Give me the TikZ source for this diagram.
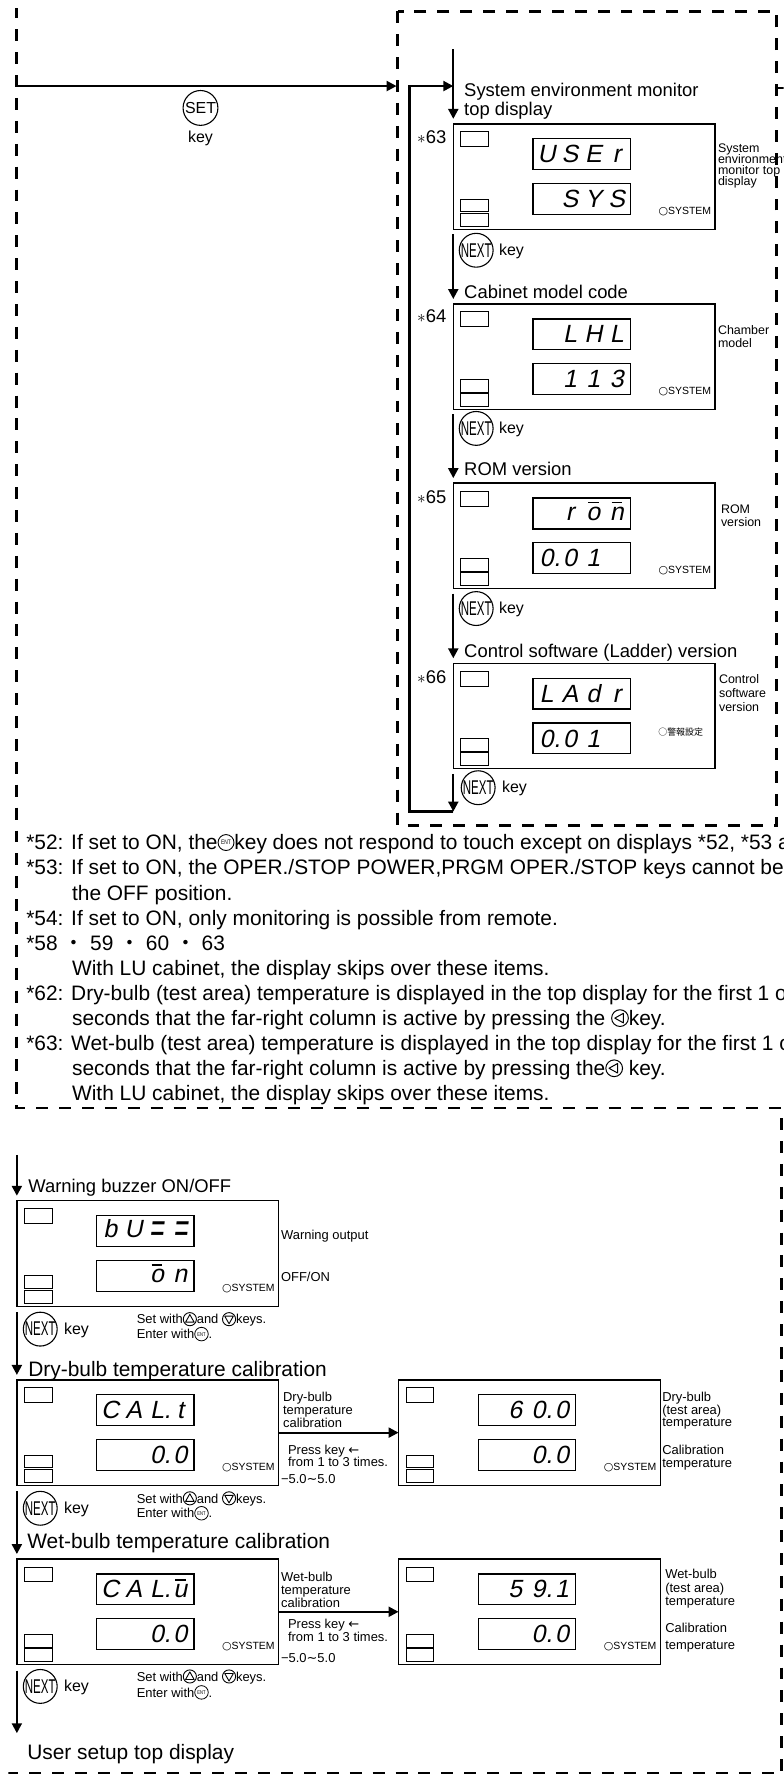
\documentclass[tikz,border=0pt]{standalone}
\usepackage{fontspec}
\setmainfont{Liberation Sans}
\newfontfamily\cjk{Noto Sans CJK JP}
\newfontfamily\djv{DejaVu Sans}
\newfontfamily\lcdf[FakeSlant=0.2]{Liberation Sans}
\usetikzlibrary{arrows.meta}

\newcommand\fs[1]{\fontsize{#1}{#1}\selectfont}
\newcommand\cl[1]{\makebox[23.5pt][c]{#1}}
\newcommand\cd[1]{\makebox[23.5pt][c]{#1\rlap{.}}}
\newcommand\tb[1]{\ooalign{#1\cr\hidewidth\raisebox{0.68em}{\rule{0.42em}{0.07em}}\hidewidth\cr}}
\newcommand\zz{\raisebox{-0.2em}{\scalebox{1}[1.7]{=}}}

\newsavebox\kup \newsavebox\kdn \newsavebox\klt \newsavebox\kent \newsavebox\kentf
\newcommand\entk{\rlap{\usebox\kent}\makebox[\wd\kent][c]{\raisebox{2.75pt}{\fs{5.5}\scalebox{0.75}[1]{ENT}}}}
\newcommand\entf{\rlap{\usebox\kentf}\makebox[\wd\kentf][c]{\raisebox{5.1pt}{\fs{6.5}\scalebox{0.75}[1]{ENT}}}}

\newcommand\dispbox[6]{%
 \node[dbox] (#1) at (#2,#3) {};
 \node[ledr, minimum height=15pt] (#1-a) at (#2+21.5,#3+15.5) {};
 \node[ledr, minimum height=13pt] (#1-b) at (#2+21.5,#3+82) {};
 \node[ledr, minimum height=13pt] (#1-c) at (#2+21.5,#3+96.5) {};
 \node[lcd] (#1-u) at (#2+129,#3+30.5) {#4};
 \node[lcd] (#1-l) at (#2+129,#3+75.5) {#5};
 \node[anchor=base east, font=\fs{10.5}] (#1-s) at (#2+259,#3+91) {#6};
}
\newcommand\lbls[6]{\foreach \lbltext [count=\lbli from 0] in {#6} {\node[anchor=base west, font=\fs{#2}] (#1-\lbli) at (#3, #4+\lbli*#5) {\lbltext};}}
\newcommand\sysl{{\djv\fs{11}○}SYSTEM}

\begin{document}
\begin{tikzpicture}[x=1pt,y=-1pt,
  every node/.style={inner sep=0pt, outer sep=0pt},
  dashbox/.style={line width=2.6pt, dash pattern=on 12pt off 11pt},
  flow/.style={line width=2.2pt},
  arr/.style={flow, -{Triangle[length=10pt,width=10pt]}},
  dbox/.style={draw, line width=1.4pt, minimum width=263pt, minimum height=106pt, anchor=north west},
  lcd/.style={draw, line width=1.2pt, minimum width=98pt, minimum height=31pt, font=\lcdf\fs{25}},
  ledr/.style={draw, line width=1pt, minimum width=28pt},
  keyc/.style={draw, circle, line width=1.1pt, minimum size=34pt},
  head/.style={anchor=base west, font=\fs{18.5}},
  headb/.style={anchor=base west, font=\fs{21}},
  keyt/.style={anchor=base west, font=\fs{16}},
  small/.style={anchor=base west, font=\fs{13}},
  foot/.style={anchor=base west, font=\fs{21}}]
\global\sbox\kup{\tikz[x=1pt,y=1pt,baseline=-4.7pt,line width=0.9pt,line join=round]{\draw (0,0) circle[radius=6.6pt]; \draw (-4.3pt,-3pt) -- (4.3pt,-3pt) -- (0,4.6pt) -- cycle;}}%
\global\sbox\kdn{\tikz[x=1pt,y=1pt,baseline=-4.7pt,line width=0.9pt,line join=round]{\draw (0,0) circle[radius=6.6pt]; \draw (-4.3pt,3pt) -- (4.3pt,3pt) -- (0,-4.6pt) -- cycle;}}%
\global\sbox\klt{\tikz[x=1pt,y=1pt,baseline=-7.4pt,line width=1pt,line join=round]{\draw (0,0) circle[radius=8.4pt]; \draw (-5.2pt,0) -- (3.4pt,4.8pt) -- (3.4pt,-4.8pt) -- cycle;}}%
\global\sbox\kent{\tikz[x=1pt,y=1pt,baseline=-4.7pt,line width=0.8pt]{\draw (0,0) circle[radius=6.8pt];}}%
\global\sbox\kentf{\tikz[x=1pt,y=1pt,baseline=-7.4pt,line width=0.9pt]{\draw (0,0) circle[radius=8pt];}}%
\useasboundingbox (0,0) rectangle (779,1774);
\clip (0,0) rectangle (779,1774);

% dashed frames
\draw[dashbox] (8,-2) -- (8,1105) -- (777,1105) -- (777,1780);
\draw[dashbox] (-2,1773) -- (781,1773);
\draw[dashbox] (391,3) rectangle (772,821);
\draw[dashbox] (770,80) -- (781,80);

% ---------- top right column ----------
\dispbox{A}{447}{116}{\cl{U}\cl{S}\cl{E}\cl{r}}{\cl{}\cl{S}\cl{Y}\cl{S}}{\sysl}
\dispbox{B}{447}{297}{\cl{}\cl{L}\cl{H}\cl{L}}{\cl{}\cl{1}\cl{1}\cl{3}}{\sysl}
\dispbox{C}{447}{477}{\cl{}\cl{r}\cl{\tb{o}}\cl{\tb{n}}}{\cd{0}\cl{0}\cl{1}\cl{}}{\sysl}
\dispbox{D}{447}{658}{\cl{L}\cl{A}\cl{d}\cl{r}}{\cd{0}\cl{0}\cl{1}\cl{}}{}
\node[anchor=base east, font=\cjk\fs{9}] (D-s2) at (698,731) {○警報設定};

\node[head] (hA1) at (458,88.6) {System environment monitor};
\node[head] (hA2) at (458,107.6) {top display};
\node[head] (hB) at (458,291.6) {Cabinet model code};
\node[head] (hC) at (458,469.6) {ROM version};
\node[head] (hD) at (458,652.6) {Control software (Ladder) version};

\node[anchor=base east, font=\fs{18.5}] (sA) at (440,136) {$\ast$63};
\node[anchor=base east, font=\fs{18.5}] (sB) at (440,316) {$\ast$64};
\node[anchor=base east, font=\fs{18.5}] (sC) at (440,497) {$\ast$65};
\node[anchor=base east, font=\fs{18.5}] (sD) at (440,678) {$\ast$66};

\lbls{lA}{12.5}{713}{144.5}{11}{System,environment,monitor top,display}
\lbls{lB}{12.5}{713}{327.5}{13.4}{Chamber,model}
\lbls{lC}{12.5}{716}{507.5}{13.5}{ROM,version}
\lbls{lD}{12.5}{714}{678.5}{14}{Control,software,version}

% SET key arrow
\coordinate (a0) at (10,78);
\coordinate (a1) at (390,78);
\draw[arr] (a0) -- (a1);
\node[keyc, minimum size=35pt, font=\fs{16}] (setk) at (193,100) {SET};
\node[anchor=base, font=\fs{16}] (setkey) at (193,135) {key};

% column arrows
\coordinate (m0) at (447,41);
\draw[arr, shorten >=5pt] (m0) -- (A.north west);
\draw[arr, shorten <=5pt, shorten >=5pt] (A.south west) -- (B.north west);
\draw[arr, shorten <=5pt, shorten >=5pt] (B.south west) -- (C.north west);
\draw[arr, shorten <=5pt, shorten >=5pt] (C.south west) -- (D.north west);
\coordinate (lb) at (447,807);
\coordinate (lc1) at (403,807);
\coordinate (lc2) at (403,78);
\coordinate (lt) at (447,78);
\draw[arr, shorten <=5pt] (D.south west) -- (lb);
\draw[arr, line join=miter] (lb) -- (lc1) -- (lc2) -- (lt);

\node[keyc, font=\fs{20}] (n1) at (470,243) {\scalebox{0.58}[1]{NEXT}};
\node[keyt] (n1k) at (493,248) {key};
\node[keyc, font=\fs{20}] (n2) at (470,422) {\scalebox{0.58}[1]{NEXT}};
\node[keyt] (n2k) at (493,427) {key};
\node[keyc, font=\fs{20}] (n3) at (470,603) {\scalebox{0.58}[1]{NEXT}};
\node[keyt] (n3k) at (493,608) {key};
\node[keyc, font=\fs{20}] (n4) at (472,783) {\scalebox{0.58}[1]{NEXT}};
\node[keyt] (n4k) at (496,788) {key};

% ---------- footnotes ----------
\node[foot] (f1) at (18,845.5) {*52: If set to ON, the\entf key does not respond to touch except on displays *52, *53 and};
\node[foot] (f2) at (18,870.7) {*53: If set to ON, the OPER./STOP POWER,PRGM OPER./STOP keys cannot be};
\node[foot] (f3) at (64,895.9) {the OFF position.};
\node[foot] (f4) at (18,921.1) {*54: If set to ON, only monitoring is possible from remote.};
\node[foot] (f5) at (18,946.3) {*58 {\cjk ・} 59 {\cjk ・} 60 {\cjk ・} 63};
\node[foot] (f6) at (64,971.5) {With LU cabinet, the display skips over these items.};
\node[foot] (f7) at (18,996.7) {*62: Dry-bulb (test area) temperature is displayed in the top display for the first 1 or};
\node[foot] (f8) at (64,1021.9) {seconds that the far-right column is active by pressing the \usebox\klt key.};
\node[foot] (f9) at (18,1047.1) {*63: Wet-bulb (test area) temperature is displayed in the top display for the first 1 or};
\node[foot] (f10) at (64,1072.3) {seconds that the far-right column is active by pressing the\usebox\klt\ key.};
\node[foot] (f11) at (64,1097.5) {With LU cabinet, the display skips over these items.};

% ---------- bottom section ----------
\dispbox{E}{8.5}{1198}{\cl{b}\cl{U}\cl{\zz}\cl{\zz}}{\cl{}\cl{}\cl{\tb{o}}\cl{n}}{\sysl}
\dispbox{F}{8.5}{1378}{\cl{C}\cl{A}\cd{L}\cl{t}}{\cl{}\cl{}\cd{0}\cl{0}}{\sysl}
\dispbox{F2}{392}{1378}{\cl{}\cl{6}\cd{0}\cl{0}}{\cl{}\cl{}\cd{0}\cl{0}}{\sysl}
\dispbox{G}{8.5}{1558}{\cl{C}\cl{A}\cd{L}\cl{\tb{u}}}{\cl{}\cl{}\cd{0}\cl{0}}{\sysl}
\dispbox{G2}{392}{1558}{\cl{}\cl{5}\cd{9}\cl{1}}{\cl{}\cl{}\cd{0}\cl{0}}{\sysl}

\node[head] (hE) at (20,1189.6) {Warning buzzer ON/OFF};
\node[headb] (hF) at (20,1374.5) {Dry-bulb temperature calibration};
\node[headb] (hG) at (19,1547.5) {Wet-bulb temperature calibration};
\node[headb] (hU) at (19,1759.5) {User setup top display};

\coordinate (b0) at (8.5,1152);
\coordinate (bend) at (8.5,1733);
\draw[arr, shorten >=5pt] (b0) -- (E.north west);
\draw[arr, shorten <=6pt, shorten >=5pt] (E.south west) -- (F.north west);
\draw[arr, shorten <=6pt, shorten >=5pt] (F.south west) -- (G.north west);
\draw[arr, shorten <=6pt] (G.south west) -- (bend);
\draw[arr] (F.east) -- (F2.west);
\draw[arr] (G.east) -- (G2.west);

\node[keyc, font=\fs{20}] (n5) at (32,1327) {\scalebox{0.58}[1]{NEXT}};
\node[keyt] (n5k) at (56,1332) {key};
\node[keyc, font=\fs{20}] (n6) at (32,1507) {\scalebox{0.58}[1]{NEXT}};
\node[keyt] (n6k) at (56,1512) {key};
\node[keyc, font=\fs{20}] (n7) at (32,1686) {\scalebox{0.58}[1]{NEXT}};
\node[keyt] (n7k) at (56,1691) {key};

\node[small] (e1) at (129,1321.7) {Set with\usebox\kup and \usebox\kdn keys.};
\node[small] (e2) at (129,1336.7) {Enter with\entk.};
\node[small] (e3) at (129,1501.7) {Set with\usebox\kup and \usebox\kdn keys.};
\node[small] (e4) at (129,1516.7) {Enter with\entk.};
\node[small] (e5) at (129,1680.7) {Set with\usebox\kup and \usebox\kdn keys.};
\node[small] (e6) at (129,1696.7) {Enter with\entk.};

\node[small] (lE1) at (274,1236.7) {Warning output};
\node[small] (lE2) at (274,1278.7) {OFF/ON};
\lbls{lF}{13}{276}{1399.7}{13}{Dry-bulb,temperature,calibration}
\node[small] (pF1) at (281,1452.7) {Press key {\djv←}};
\node[small] (pF2) at (281,1464.7) {from 1 to 3 times.};
\node[small] (pF3) at (274,1481.7) {−5.0{\djv∼}5.0};
\lbls{lF2}{13}{657}{1399.7}{12.7}{Dry-bulb,(test area),temperature}
\lbls{lF3}{13}{657}{1452.7}{13}{Calibration,temperature}
\lbls{lG}{13}{274}{1580.7}{13}{Wet-bulb,temperature,calibration}
\node[small] (pG1) at (281,1627.7) {Press key {\djv←}};
\node[small] (pG2) at (281,1640.7) {from 1 to 3 times.};
\node[small] (pG3) at (274,1661.7) {−5.0{\djv∼}5.0};
\lbls{lG2}{13}{660}{1577.7}{13.5}{Wet-bulb,(test area),temperature}
\node[small] (lG3a) at (660,1631.7) {Calibration};
\node[small] (lG3b) at (660,1648.7) {temperature};
\end{tikzpicture}
\end{document}
